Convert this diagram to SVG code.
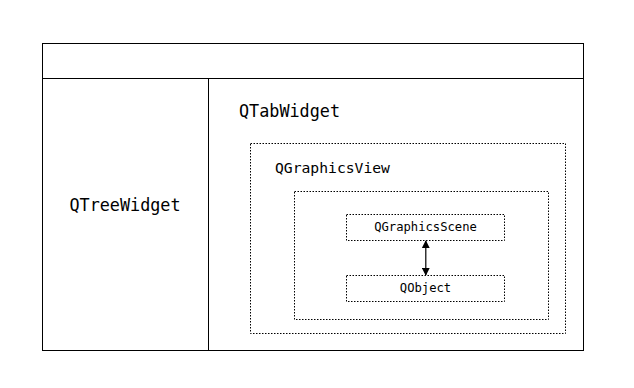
<svg xmlns="http://www.w3.org/2000/svg" width="634" height="388" viewBox="0 0 634 388">
  <defs>
    <style>
      .solid { fill: #fff; stroke: #000; stroke-width: 1; }
      .dotted { fill: none; stroke: #000; stroke-width: 1; stroke-dasharray: 1.5 1.5; }
      .lbl { font-family: "DejaVu Sans Mono", "Liberation Mono", monospace; fill: #000; }
      .big { font-size: 16.8px; }
      .mid { font-size: 14.7px; }
      .small { font-size: 12.2px; }
      .link { stroke: #000; stroke-width: 1.2; fill: none; }
    </style>
    <marker id="arrowHead" viewBox="0 0 10 10" refX="9" refY="5" markerWidth="8" markerHeight="8" markerUnits="userSpaceOnUse" orient="auto-start-reverse">
      <path d="M0,0 L10,5 L0,10 z" fill="#000"/>
    </marker>
  </defs>
  <rect width="634" height="388" fill="#fff"/>

  <!-- main window frame -->
  <g id="window">
    <rect class="solid" x="42.5" y="43.5" width="541" height="307"/>
    <line class="solid" x1="42.5" y1="78.5" x2="583.5" y2="78.5"/>
    <line class="solid" x1="208.5" y1="78.5" x2="208.5" y2="350.5"/>
  </g>

  <g id="tree-widget">
    <text class="lbl big" x="125" y="211" text-anchor="middle">QTreeWidget</text>
  </g>

  <g id="tab-widget">
    <text class="lbl big" x="239" y="117">QTabWidget</text>
  </g>

  <g id="graphics-view">
    <rect class="dotted" x="250.5" y="143.5" width="315" height="190"/>
    <text class="lbl mid" x="275" y="173">QGraphicsView</text>
  </g>

  <g id="viewport">
    <rect class="dotted" x="294.5" y="191.5" width="254" height="128"/>
  </g>

  <g id="graphics-scene">
    <rect class="dotted" x="346.5" y="214.5" width="158" height="26"/>
    <text class="lbl small" x="425.5" y="231" text-anchor="middle">QGraphicsScene</text>
  </g>

  <g id="qobject">
    <rect class="dotted" x="346.5" y="275.5" width="158" height="26"/>
    <text class="lbl small" x="425.5" y="292" text-anchor="middle">QObject</text>
  </g>

  <g id="connectors">
    <line class="link" x1="425.8" y1="241" x2="425.8" y2="275" marker-start="url(#arrowHead)" marker-end="url(#arrowHead)"/>
  </g>
</svg>
